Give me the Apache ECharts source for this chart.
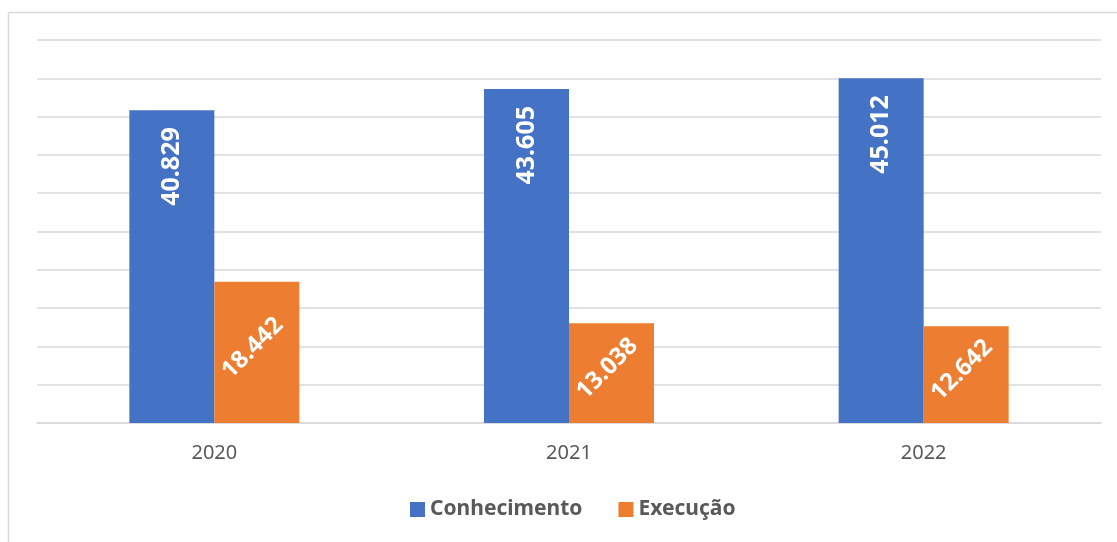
<!DOCTYPE html>
<html>
<head>
<meta charset="utf-8">
<script src="https://cdn.jsdelivr.net/npm/echarts@6/dist/echarts.min.js"></script>
<style>
  html, body { margin: 0; padding: 0; background: #fff; }
  #main { width: 1117px; height: 542px; }
</style>
</head>
<body>
<div id="main"></div>
<script>
var anos = ['2020', '2021', '2022'];
var conhecimento = [40829, 43605, 45012];
var execucao = [18442, 13038, 12642];

function fmt(v) {
  return String(v).replace(/\B(?=(\d{3})+(?!\d))/g, '.');
}

var myChart = echarts.init(document.getElementById('main'));
var fonte = '"Noto Sans", "Open Sans", sans-serif';

var option = {
  animation: false,
  graphic: [{
    type: 'rect',
    shape: { x: 8.5, y: 12.5, width: 1200, height: 600 },
    style: { fill: 'none', stroke: '#d9d9d9', lineWidth: 1.5 },
    silent: true
  }],
  grid: { left: 37, right: 16, top: 40, bottom: 119 },
  legend: {
    bottom: 17,
    left: 405,
    itemWidth: 15,
    itemHeight: 15,
    itemGap: 36,
    icon: 'rect',
    textStyle: { color: '#595959', fontSize: 21, fontWeight: 'bold', fontFamily: fonte },
    data: ['Conhecimento', 'Execução']
  },
  xAxis: {
    type: 'category',
    data: anos,
    axisTick: { show: false },
    axisLine: { lineStyle: { color: '#d9d9d9', width: 1.5 } },
    axisLabel: { color: '#595959', fontSize: 20, margin: 20, fontFamily: fonte }
  },
  yAxis: {
    type: 'value',
    min: 0,
    max: 50000,
    interval: 5000,
    axisLabel: { show: false },
    axisLine: { show: false },
    axisTick: { show: false },
    splitLine: { lineStyle: { color: '#d9d9d9', width: 1.5 } }
  },
  series: [
    {
      name: 'Conhecimento',
      type: 'bar',
      data: conhecimento,
      barWidth: 85,
      barGap: '0%',
      itemStyle: { color: '#4472c4' },
      label: {
        show: true,
        position: 'insideTop',
        rotate: 90,
        align: 'right',
        verticalAlign: 'middle',
        distance: 17,
        color: '#fff',
        fontSize: 25,
        fontWeight: 'bold',
        fontFamily: fonte,
        formatter: function (p) { return fmt(p.value); }
      }
    },
    {
      name: 'Execução',
      type: 'bar',
      data: execucao,
      barWidth: 85,
      barGap: '0%',
      itemStyle: { color: '#ed7d31' },
      label: {
        show: true,
        position: 'inside',
        rotate: 45,
        offset: [0, -6],
        color: '#fff',
        fontSize: 24,
        fontWeight: 'bold',
        fontFamily: fonte,
        formatter: function (p) { return fmt(p.value); }
      }
    }
  ]
};

myChart.setOption(option);
</script>
</body>
</html>
